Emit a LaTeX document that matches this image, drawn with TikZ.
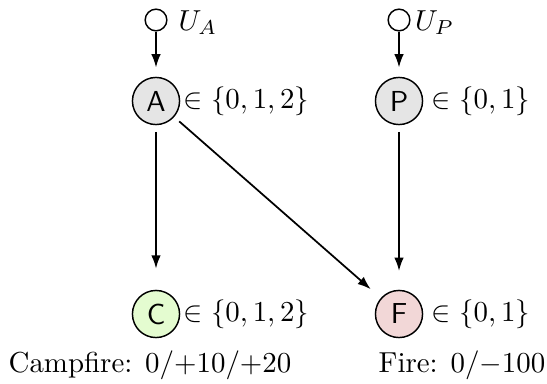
\documentclass[tikz,border=0pt]{standalone}
\usetikzlibrary{arrows.meta}
\definecolor{cfill}{RGB}{228,252,208}
\definecolor{ffill}{RGB}{242,215,215}
\begin{document}
\begin{tikzpicture}[x=0.346pt,y=-0.346pt,
 var/.style={circle,draw,line width=0.5pt,minimum size=16.3pt,inner sep=0pt,font=\sffamily},
 exo/.style={circle,draw,line width=0.5pt,minimum size=7.5pt,inner sep=0pt},
 arr/.style={-{Latex[length=4.6pt,width=3.3pt]},line width=0.6pt},
 dom/.style={anchor=west,inner sep=1pt},
 ulab/.style={anchor=west,inner sep=0pt}]
\useasboundingbox (0,0) rectangle (547,383);
\node[exo] (UA) at (156,20) {};
\node[exo] (UP) at (399,20) {};
\node[ulab] (lUA) at ([xshift=3.6pt,yshift=-0.8pt]UA.east) {$U_A$};
\node[ulab] (lUP) at ([xshift=1.4pt,yshift=-0.8pt]UP.east) {$U_P$};
\node[var,fill=gray!20] (A) at (156,101) {A};
\node[var,fill=gray!20] (P) at (399,101) {P};
\node[var,fill=cfill] (C) at (156,314) {C};
\node[var,fill=ffill] (F) at (399,314) {F};
\node[dom] (dA) at (A.east) {$\in\{0,1,2\}$};
\node[dom] (dP) at ([xshift=1.8pt]P.east) {$\in\{0,1\}$};
\node[dom] (dC) at (C.east) {$\in\{0,1,2\}$};
\node[dom] (dF) at ([xshift=1.8pt]F.east) {$\in\{0,1\}$};
\node (tC) at (150,365) {Campfire: $0/{+10}/{+20}$};
\node (tF) at (462,365) {Fire: $0/{-100}$};
\draw[arr,shorten >=3.2pt] (UA) -- (A);
\draw[arr,shorten >=3.2pt] (UP) -- (P);
\draw[arr,shorten <=2.3pt,shorten >=7.3pt] (A) -- (C);
\draw[arr,shorten <=2.3pt,shorten >=6.5pt] (P) -- (F);
\draw[arr,shorten <=2.3pt,shorten >=4.6pt] (A) -- (F);
\end{tikzpicture}
\end{document}
